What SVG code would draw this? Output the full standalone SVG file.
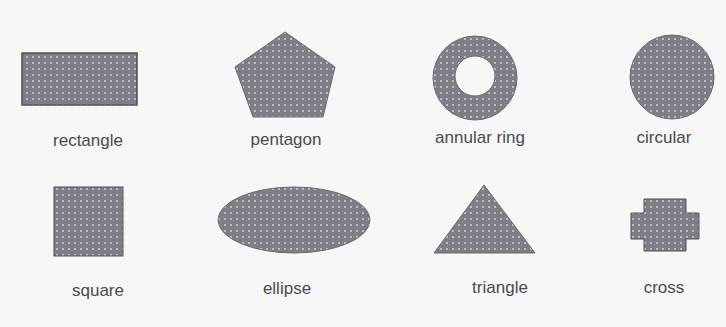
<svg xmlns="http://www.w3.org/2000/svg" width="726" height="327" viewBox="0 0 726 327">
<defs>
<pattern id="dots" width="6" height="6" patternUnits="userSpaceOnUse">
<rect width="6" height="6" fill="#7f7d86"/>
<circle cx="3" cy="3" r="1" fill="#d4d3da"/>
</pattern>
<style>
.shape{fill:url(#dots);stroke:#6a6870;stroke-width:1}
.lbl{font-family:"Liberation Sans",Arial,sans-serif;font-size:17px;fill:#4a4a4e;text-anchor:middle}
</style>
</defs>
<rect width="726" height="327" fill="#f7f7f7"/>
<g id="rectangle">
<rect class="shape" x="22" y="53" width="115" height="52" style="stroke:#505058;stroke-width:1.5"/>
<text class="lbl" x="88" y="146">rectangle</text>
</g>
<g id="pentagon">
<polygon class="shape" points="285,32 335,67 323,117 253,117 235,67"/>
<text class="lbl" x="286" y="145">pentagon</text>
</g>
<g id="annular-ring">
<path class="shape" fill-rule="evenodd" d="M517,78 A42,42 0 1 0 433,78 A42,42 0 1 0 517,78 Z M495,76 A20,20 0 1 0 455,76 A20,20 0 1 0 495,76 Z"/>
<text class="lbl" x="480" y="143">annular ring</text>
</g>
<g id="circular">
<circle class="shape" cx="672" cy="77" r="42"/>
<text class="lbl" x="664" y="143">circular</text>
</g>
<g id="square">
<rect class="shape" x="54" y="187" width="69" height="69" style="stroke:#505058"/>
<text class="lbl" x="98" y="296">square</text>
</g>
<g id="ellipse">
<ellipse class="shape" cx="294" cy="220" rx="76" ry="33"/>
<text class="lbl" x="287" y="294">ellipse</text>
</g>
<g id="triangle">
<polygon class="shape" points="484,185 535,253 434,253"/>
<text class="lbl" x="500" y="293">triangle</text>
</g>
<g id="cross">
<polygon class="shape" points="644,199 686,199 686,213 699,213 699,239 686,239 686,251 644,251 644,239 631,239 631,213 644,213" style="stroke:#505058"/>
<text class="lbl" x="664" y="293">cross</text>
</g>
</svg>
